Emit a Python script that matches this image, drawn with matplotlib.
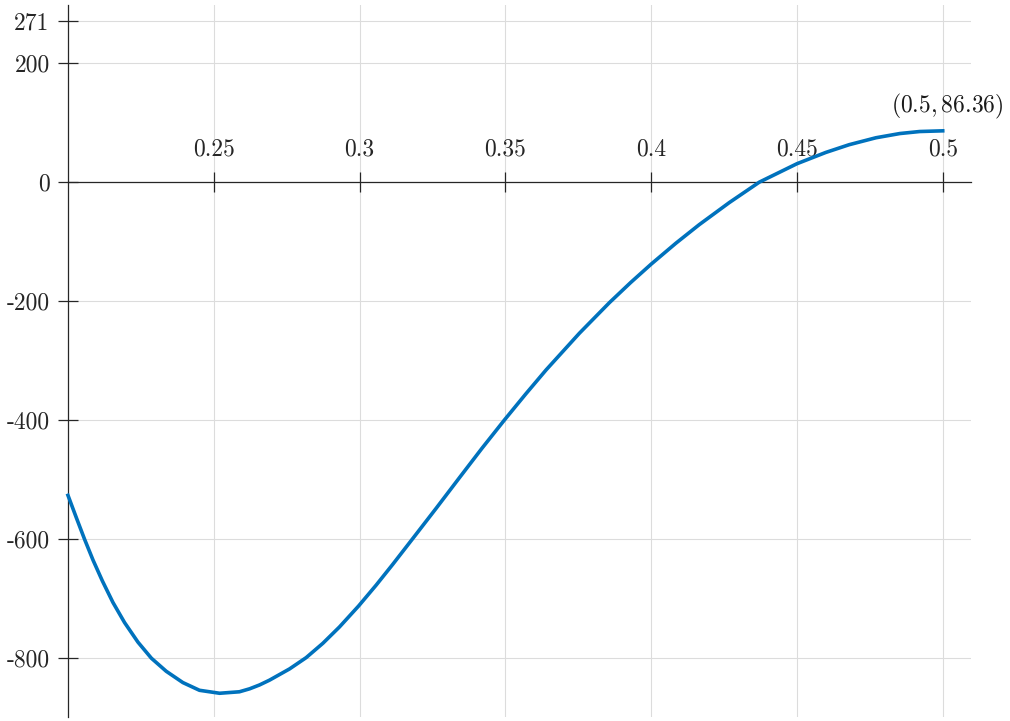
import matplotlib
matplotlib.use('Agg')
import matplotlib.pyplot as plt

matplotlib.rcParams.update({'font.family': 'cmr10', 'mathtext.fontset': 'cm',
                            'axes.unicode_minus': False, 'font.size': 17})

# curve points
x_vals = [0.2000, 0.2029, 0.2057, 0.2086, 0.2118, 0.2154, 0.2194, 0.2240,
          0.2286, 0.2337, 0.2394, 0.2451, 0.2520, 0.2588, 0.2623, 0.2657,
          0.2691, 0.2760, 0.2817, 0.2874, 0.2931, 0.2997, 0.3057, 0.3114,
          0.3182, 0.3263, 0.3343, 0.3420, 0.3498, 0.3570, 0.3640, 0.3754,
          0.3857, 0.3930, 0.4000, 0.4085, 0.4165, 0.4268, 0.4371, 0.4500,
          0.4599, 0.4679, 0.4771, 0.4853, 0.4921, 0.5000]
y_vals = [-527, -565, -601, -636, -671, -707, -741, -774,
          -801, -823, -842, -855, -860, -857.5, -852.5, -846,
          -838, -819, -800, -776, -748.5, -713, -678, -643,
          -600, -548.6, -497, -447.7, -399.5, -356.4, -315.8, -254.2,
          -202.7, -168.8, -138, -102.7, -71.5, -34.4, 0, 31,
          50, 63, 74.7, 81.8, 85.2, 86.36]

x_ticks = [0.25, 0.3, 0.35, 0.4, 0.45, 0.5]
x_labels = ['0.25', '0.3', '0.35', '0.4', '0.45', '0.5']
y_ticks = [271, 200, 0, -200, -400, -600, -800]
y_labels = ['271', '200', '0', '-200', '-400', '-600', '-800']
end_point = (0.5, 86.36)
end_label = r'$(0.5, 86.36)$'

fig = plt.figure(figsize=(10.1, 7.21), dpi=100)
ax = fig.add_axes([0.0673, 0.0055, 0.8938, 0.9875])

ax.plot(x_vals, y_vals, color='#0072BD', linewidth=2.6, zorder=3, clip_on=False,
        solid_joinstyle='round')

ax.set_xlim(0.2, 0.5096)
ax.set_ylim(-900, 298)

ax.spines['top'].set_visible(False)
ax.spines['right'].set_visible(False)
ax.spines['bottom'].set_position(('data', 0))
for s in ['left', 'bottom']:
    ax.spines[s].set_color('#262626')
    ax.spines[s].set_linewidth(0.9)

ax.set_xticks(x_ticks)
ax.set_xticklabels(x_labels)
ax.set_yticks(y_ticks)
ax.set_yticklabels(y_labels)
ax.tick_params(axis='both', direction='inout', length=14.4, width=0.9,
               color='#262626', labelcolor='#262626', labelsize=17)
ax.tick_params(axis='x', pad=-39)
ax.tick_params(axis='y', pad=6)

ax.grid(True, color='#dcdcdc', linewidth=0.8)
ax.set_axisbelow(True)

ax.annotate(end_label, xy=end_point, xytext=(3, 7), textcoords='offset points',
            ha='center', va='bottom', fontsize=17, color='#1a1a1a')

plt.savefig('out.png', dpi=100)
